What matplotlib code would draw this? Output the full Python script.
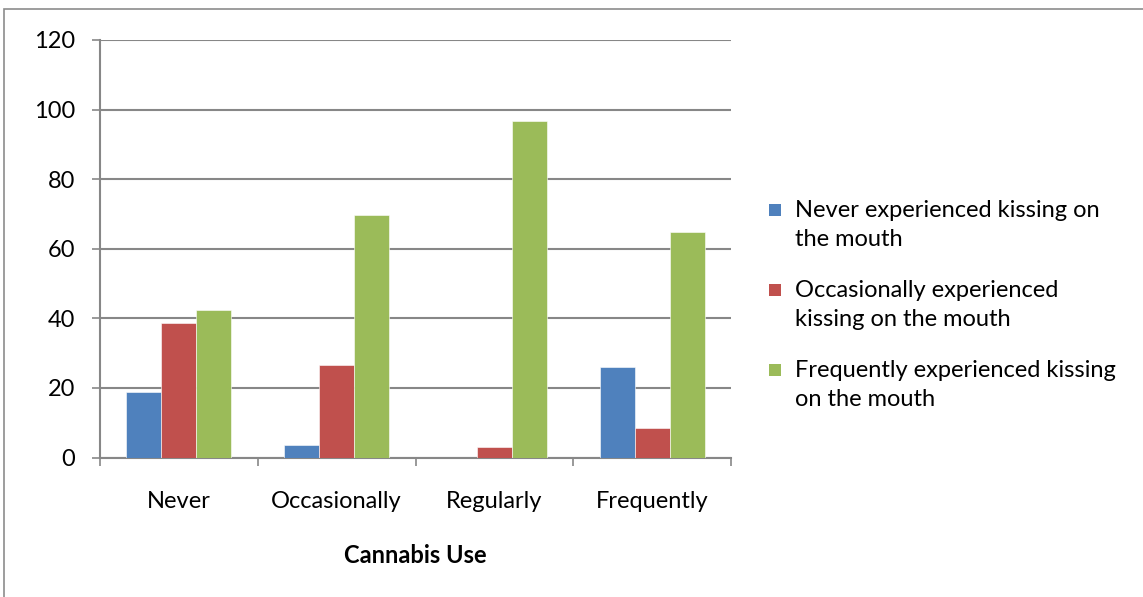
import matplotlib
matplotlib.use("Agg")
import matplotlib.pyplot as plt
from matplotlib.patches import Rectangle
import numpy as np

categories = ["Never", "Occasionally", "Regularly", "Frequently"]
series_labels = [
    "Never experienced kissing on\nthe mouth",
    "Occasionally experienced\nkissing on the mouth",
    "Frequently experienced kissing\non the mouth",
]
never_kiss = [18.7, 3.6, 0.0, 26.0]
occasional_kiss = [38.8, 26.5, 3.1, 8.6]
frequent_kiss = [42.5, 69.7, 96.6, 64.9]
y_ticks = [0, 20, 40, 60, 80, 100, 120]
x_label = "Cannabis Use"

colors = ["#4F81BD", "#C0504D", "#9BBB59"]
series = [never_kiss, occasional_kiss, frequent_kiss]

plt.rcParams['font.family'] = ['Lato', 'DejaVu Sans']

W, H = 1143, 597
fig = plt.figure(figsize=(W / 100, H / 100), dpi=100)

# outer chart border
fig.patches.append(Rectangle((4 / W, -0.1), 1.2, (H - 9) / H + 0.1, transform=fig.transFigure,
                             fill=False, edgecolor="#8c8c8c", linewidth=1.2))

ax = fig.add_axes([100 / W, (H - 457.5) / H, (731 - 100) / W, (457.5 - 40) / H])

n = len(categories)
x = np.arange(n)
bw = 1 / 4.5
for i, (vals, c) in enumerate(zip(series, colors)):
    ax.bar(x + (i - 1) * bw, vals, width=bw, color=c, edgecolor="white", linewidth=0.4, zorder=3)

FS = 17
ax.set_xlim(-0.5, n - 0.5)
ax.set_ylim(0, 120)
ax.set_yticks(y_ticks)
ax.set_yticklabels([str(t) for t in y_ticks], fontsize=FS)
ax.yaxis.grid(True, color="#878787", linewidth=1.5, zorder=0)
ax.set_axisbelow(True)

ax.set_xticks(x)
ax.set_xticklabels(categories, fontsize=FS)
ax.set_xticks(np.arange(n + 1) - 0.5, minor=True)
ax.tick_params(axis="x", which="major", length=0, pad=24)
ax.tick_params(axis="x", which="minor", length=6, color="#878787", width=1.2)
ax.tick_params(axis="y", length=6, color="#878787", width=1.2, pad=12)

for s in ["top", "right"]:
    ax.spines[s].set_visible(False)
for s in ["left", "bottom"]:
    ax.spines[s].set_color("#878787")
    ax.spines[s].set_linewidth(1.5)

ax.set_xlabel(x_label, fontsize=FS, fontweight="bold", labelpad=23)

# legend drawn manually to keep the swatch aligned with the first line
leg_y = [210, 290, 370]
for lab, c, yy in zip(series_labels, colors, leg_y):
    fig.patches.append(Rectangle((769 / W, (H - yy - 6) / H), 12 / W, 12 / H,
                                 transform=fig.transFigure, facecolor=c, edgecolor="none"))
    fig.text(795 / W, (H - yy + 10) / H, lab, fontsize=FS, va="top", ha="left",
             linespacing=1.5)

fig.savefig("out.png", dpi=100)
